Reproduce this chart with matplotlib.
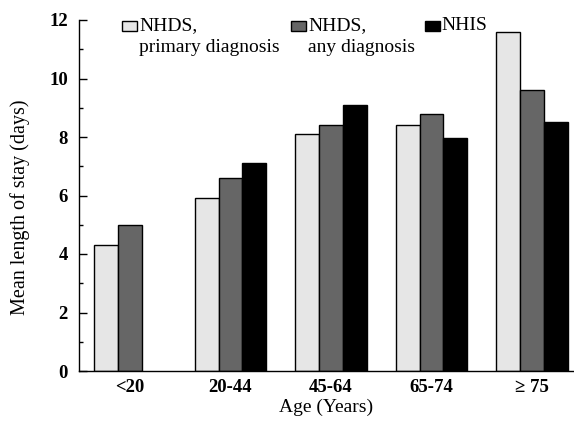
import numpy as np
import matplotlib
matplotlib.use("Agg")
import matplotlib.pyplot as plt
from matplotlib.patches import Rectangle

categories = ["<20", "20-44", "45-64", "65-74", "\u2265 75"]
series_names = ["NHDS,\nprimary diagnosis", "NHDS,\nany diagnosis", "NHIS"]
nhds_primary = [4.3, 5.9, 8.1, 8.4, 11.6]
nhds_any = [5.0, 6.6, 8.4, 8.8, 9.6]
nhis = [np.nan, 7.1, 9.1, 7.95, 8.5]
yticks = [0, 2, 4, 6, 8, 10, 12]

colors = ["#e6e6e6", "#666666", "#000000"]
plt.rcParams['font.family'] = ['Liberation Serif', 'DejaVu Serif']

W, H = 574, 422
fig = plt.figure(figsize=(W / 100, H / 100), dpi=100)
ax = fig.add_axes([79 / W, 1 - 371 / H, (W - 79) / W, (371 - 20) / H])

x = np.arange(len(categories))
w = 0.236
for i, (vals, c) in enumerate(zip([nhds_primary, nhds_any, nhis], colors)):
    ax.bar(x + (i - 1) * w, vals, width=w, color=c, edgecolor="black", linewidth=1.0)

ax.set_xlim(-0.507, 4.418)
ax.set_ylim(0, 12)
ax.set_yticks(yticks)
ax.set_yticks(np.arange(1, 12, 2), minor=True)
ax.set_xticks(x)
ax.set_xticklabels(categories)
ax.tick_params(axis="y", which="major", direction="in", length=6, width=1, pad=8, labelsize=13.5)
ax.tick_params(axis="y", which="minor", direction="in", length=3, width=1)
ax.tick_params(axis="x", length=0, pad=6, labelsize=13.5)
for lab in ax.get_yticklabels() + ax.get_xticklabels():
    lab.set_fontweight("bold")
for s in ["top", "right"]:
    ax.spines[s].set_visible(False)
for s in ["left", "bottom"]:
    ax.spines[s].set_linewidth(1.0)

ax.set_ylabel("Mean length of stay (days)", fontsize=14.5)
ax.yaxis.set_label_coords(-0.099, 0.466)
ax.set_xlabel("Age (Years)", fontsize=14)
ax.xaxis.set_label_coords(0.5, -0.08)

# legend drawn manually to match reference layout
leg = [(122, 139), (291, 308), (425, 441)]
for (px, tx), name, c in zip(leg, series_names, colors):
    fig.patches.append(Rectangle((px / W, 1 - 31 / H), 15 / W, 10.5 / H,
                                 transform=fig.transFigure, facecolor=c,
                                 edgecolor="black", linewidth=1.0))
    lines = name.split("\n")
    for k, ln in enumerate(lines):
        fig.text(tx / W, 1 - (30.5 + 21.5 * k) / H, ln, fontsize=14, va="baseline", ha="left")

fig.savefig("out.png", dpi=100)
